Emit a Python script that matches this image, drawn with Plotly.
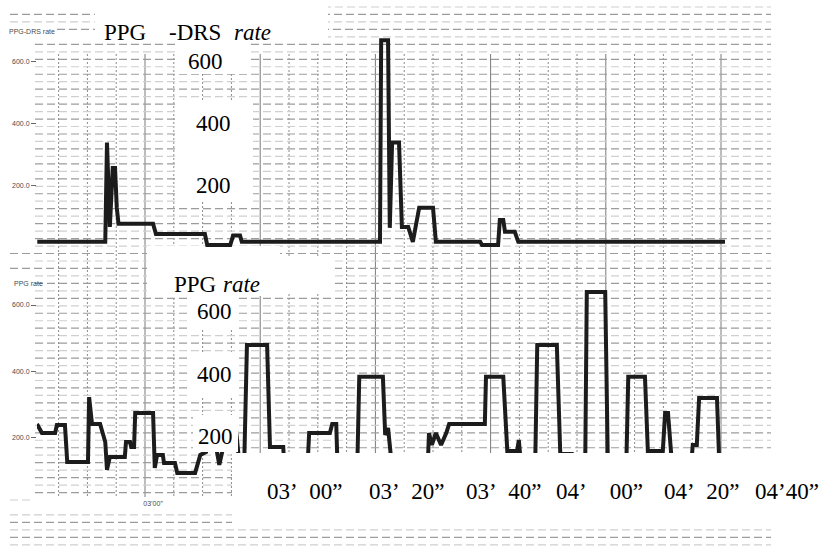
import plotly.graph_objects as go

# ---- data -------------------------------------------------------------
# PPG-DRS rate (upper trace): time in seconds, rate value
drs_t = [161.3, 173.1, 173.4, 173.9, 174.4, 174.8, 175.1, 175.4, 181.4, 181.9,
         190.4, 190.8, 194.8, 195.3, 196.5, 196.8, 220.8, 221.0, 222.2, 222.5,
         222.9, 224.1, 224.6, 225.7, 226.5, 227.6, 230.0, 230.5, 238.2, 238.5,
         241.3, 241.6, 242.2, 242.5, 244.2, 244.8, 280.7]
drs_v = [20, 20, 340, 68, 258, 258, 130, 78, 78, 45,
         45, 10, 10, 40, 40, 20, 20, 670, 670, 65,
         340, 340, 68, 68, 20, 130, 130, 20, 20, 10,
         10, 90, 90, 52, 52, 20, 20]

# PPG rate (lower trace)
ppg_t = [161.25, 162.1, 164.4, 164.7, 166.1, 166.5, 170.1, 170.3, 170.8, 172.2,
         173.1, 173.4, 173.9, 176.5, 176.7, 177.4, 177.6, 178.1, 178.3, 181.4,
         181.7, 182.1, 183.1, 183.3, 185.2, 185.6, 188.7, 189.6, 190.6, 190.9,
         192.2, 192.5, 192.9, 193.4, 193.7, 195.8, 196.5, 197.2, 197.7, 201.2,
         201.7, 204.0, 204.3, 208.1, 208.5, 212.1, 212.5, 213.2, 213.5, 216.8,
         217.2, 221.3, 221.7, 222.2, 223.1, 229.0, 229.3, 229.8, 230.5, 231.4,
         232.3, 232.8, 239.0, 239.2, 242.2, 242.9, 244.6, 244.9, 245.5, 247.7,
         248.1, 251.5, 252.1, 254.1, 254.5, 256.4, 256.7, 259.9, 260.4, 263.5,
         263.9, 266.8, 267.3, 269.9, 270.3, 270.8, 271.7, 274.6, 275.1, 275.8,
         276.2, 279.3, 279.8]
ppg_v = [242, 215, 215, 239, 239, 128, 128, 323, 242, 242,
         188, 104, 143, 143, 188, 188, 173, 173, 275, 275,
         110, 149, 149, 125, 125, 95, 95, 149, 158, 224,
         224, 158, 119, 158, 224, 224, 104, 104, 480, 480,
         173, 173, 74, 74, 215, 215, 242, 242, 74, 74,
         384, 384, 209, 230, 74, 74, 215, 179, 215, 179,
         215, 242, 242, 384, 384, 161, 161, 194, 74, 74,
         480, 480, 152, 152, 74, 74, 639, 639, 74, 74,
         384, 384, 161, 161, 275, 275, 74, 74, 179, 179,
         320, 320, 74]

y_ticks = [200, 400, 600]
grid_t = list(range(165, 281, 5))          # gridlines every 5 s
major_every = 20                           # solid line every 20 s
axis_tick_t = [180]
axis_tick_text = ["03’00”"]
time_labels = ["03’\u00a0\u00a000”", "03’\u00a0\u00a020”", "03’\u00a0\u00a040”",
               "04’\u00a0\u00a0\u00a0\u00a000”", "04’\u00a0\u00a020”", "04’40”"]

# ---- canvas helpers ---------------------------------------------------
W, H, L = 822, 550, 37


def px(x):
    return (x - L) / (W - L)


def py(y):
    return 1 - y / H


serif = "Liberation Serif, Times New Roman, serif"
sans = "Liberation Sans, Arial, sans-serif"
big = dict(family=serif, size=23, color="black")
small = dict(family=sans, size=7, color="#4a4a4a")

fig = go.Figure()
line_style = dict(color="#1c1c1c", width=4)
fig.add_trace(go.Scatter(x=drs_t, y=drs_v, mode="lines", line=line_style,
                         xaxis="x", yaxis="y", hoverinfo="skip"))
fig.add_trace(go.Scatter(x=ppg_t, y=ppg_v, mode="lines", line=line_style,
                         xaxis="x", yaxis="y2", hoverinfo="skip"))

shapes = []
# vertical time grid
for t in grid_t:
    major = t % major_every == 0
    shapes.append(dict(type="line", xref="x", yref="paper", x0=t, x1=t,
                       y0=py(54), y1=py(497), layer="below",
                       line=dict(color="#7a7a7a" if major else "#8a8a8a", width=1,
                                 dash="solid" if major else "2px,2px")))

# horizontal dashed rows, alternating light / medium grey
for k in range(73):
    y = 7 + 7.47 * k
    x0, x1 = 35, 771
    if k == 0 or k == 4:
        x0 = 95
    elif k in (1, 2, 33, 35):
        x0 = 10
    elif k == 3:
        x0 = 57
    elif k == 66:
        x0, x1 = 10, 30
    elif k == 67:
        continue
    elif k in (68, 69):
        x0, x1 = 10, 232
    elif k >= 70:
        x0 = 10
    shapes.append(dict(type="line", xref="paper", yref="paper",
                       x0=px(x0), x1=px(x1), y0=py(y), y1=py(y), layer="below",
                       line=dict(color="#cfcfcf" if k % 2 == 0 else "#9c9c9c",
                                 width=1.2, dash="8px,4px")))


def white_box(x0, y0, x1, y1, layer="below"):
    return dict(type="rect", xref="paper", yref="paper",
                x0=px(x0), x1=px(x1), y0=py(y1), y1=py(y0), layer=layer,
                fillcolor="white", line=dict(width=0))


# label backgrounds
shapes += [
    white_box(95, 0, 328, 41),
    white_box(177, 41, 250, 74),
    white_box(177, 100, 253, 202),
    white_box(147, 246, 280, 296),
    white_box(168, 258, 335, 294),
    white_box(190, 296, 236, 330),
    white_box(190, 352, 236, 396),
    white_box(193, 415, 238, 452, layer="above"),
    white_box(232, 453, 822, 527, layer="above"),
]

annotations = []


def text(s, x, y, font=big, anchor="left"):
    annotations.append(dict(text=s, xref="paper", yref="paper", x=px(x), y=py(y),
                            xanchor=anchor, yanchor="middle", showarrow=False,
                            font=font))


text("PPG", 102, 32)
text("-DRS", 167, 32)
text("<i>rate</i>", 232, 32)
for s, x, y in [("600", 186, 61), ("400", 194, 123), ("200", 194, 186)]:
    text(s, x, y)
text("PPG", 172, 284)
text("<i>rate</i>", 221, 284)
for s, x, y in [("600", 195, 311), ("400", 195, 374), ("200", 196, 436)]:
    text(s, x, y)
for s, x in zip(time_labels, [265, 367, 464, 554, 662, 753]):
    text(s, x, 491)
text("PPG-DRS rate", 7, 31, font=small)
text("PPG rate", 12, 283, font=small)

yax = dict(tickvals=y_ticks, tickformat=".1f", ticks="outside", ticklen=5,
           tickcolor="#666666", tickfont=small, showgrid=False, zeroline=False,
           showline=False, anchor="x", fixedrange=True)

fig.update_layout(
    width=W, height=H,
    margin=dict(l=L, r=0, t=0, b=0, pad=0),
    paper_bgcolor="white", plot_bgcolor="rgba(0,0,0,0)",
    showlegend=False,
    xaxis=dict(range=[161.25, 297.535], domain=[0, 1], anchor="y2",
               tickvals=axis_tick_t, ticktext=axis_tick_text, ticks="",
               tickfont=small, ticklabelshift=8, showgrid=False,
               zeroline=False, showline=False, fixedrange=True),
    yaxis=dict(domain=[py(250), py(30)], range=[-6.5, 703.2], **yax),
    yaxis2=dict(domain=[py(498), py(280)], range=[19.5, 675.2], **yax),
    shapes=shapes,
    annotations=annotations,
)

fig.write_html("out.html")
